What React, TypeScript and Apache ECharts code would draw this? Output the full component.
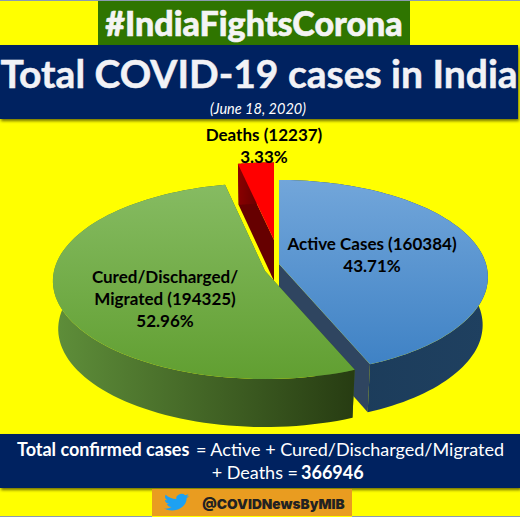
import React, { useEffect, useRef } from "react";
import * as echarts from "echarts";

const categories = ["Deaths", "Active Cases", "Cured/Discharged/Migrated"];
const caseCounts = [12237, 160384, 194325];
const labelLines = [
  ["Deaths (12237)", "3.33%"],
  ["Active Cases (160384)", "43.71%"],
  ["Cured/Discharged/", "Migrated (194325)", "52.96%"],
];
const banner = "#IndiaFightsCorona";
const title = "Total COVID-19 cases in India";
const dateLine = "(June 18, 2020)";
const handle = "@COVIDNewsByMIB";

const BIRD =
  "M23.953 4.57 C23.07 4.96 22.12 5.22 21.128 5.345 C22.14 4.74 22.93 3.78 23.291 2.622 C22.34 3.177 21.286 3.581 20.164 3.806 A4.92 4.92 0 0 0 11.78 8.288 C7.69 8.095 4.067 6.13 1.64 3.162 A4.822 4.822 0 0 0 .974 5.637 C.974 7.347 1.844 8.85 3.162 9.733 A4.904 4.904 0 0 1 .934 9.117 L.934 9.177 A4.923 4.923 0 0 0 4.88 14.004 A4.996 4.996 0 0 1 2.668 14.089 A4.936 4.936 0 0 0 7.272 17.506 A9.867 9.867 0 0 1 1.17 19.611 C.78 19.611 .391 19.588 0 19.544 A13.995 13.995 0 0 0 7.557 21.753 C16.61 21.753 21.555 14.257 21.555 7.768 C21.555 7.558 21.555 7.348 21.54 7.138 A9.935 9.935 0 0 0 24 4.59 Z";

const geometry = [
  { cx: 274, cy: 240, a: 196, b: 88, k: 0.134, depth: 41, taper: 0.98, labelX: 264, labelY: 134,
    top: ["#ff0000", "#ff0000"], wall: ["#8a0000", "#4a0000"], cut: "#660000" },
  { cx: 279, cy: 264, a: 207, b: 95.3, k: 0.134, depth: 48, taper: 0.975, labelX: 372, labelY: 243,
    top: ["#72a6da", "#3f82c5"], wall: ["#1a3a58", "#1f4060"], cut: "#2f4560" },
  { cx: 265, cy: 271, a: 211, b: 97, k: 0.102, depth: 48, taper: 0.975, labelX: 165, labelY: 276,
    top: ["#86bb62", "#619f31"], wall: ["#5f8f3a", "#273c12"], cut: "#3f6420" },
];

const total = caseCounts.reduce((s, v) => s + v, 0);
const LF = "Lato, sans-serif";

function renderSlice(params: any, api: any) {
  const i = params.dataIndex;
  const g = geometry[i];
  const before = caseCounts.slice(0, i).reduce((s, v) => s + v, 0);
  const offset = caseCounts[0];
  const startA = ((before - offset) / total) * Math.PI * 2;
  const endA = startA + (api.value(0) / total) * Math.PI * 2;
  const proj = (t: number): [number, number] => {
    const u = Math.sin(t), v = -Math.cos(t), d = 1 - g.k * v;
    return [g.cx + (g.a * u) / d, g.cy + (g.b * v) / d];
  };
  const low = (p: [number, number]): [number, number] => [g.cx + (p[0] - g.cx) * g.taper, p[1] + g.depth];
  const arc: [number, number][] = [];
  const N = 90;
  for (let n = 0; n <= N; n++) arc.push(proj(startA + ((endA - startA) * n) / N));
  const apex: [number, number] = [g.cx, g.cy];
  const cutWall = (p: [number, number]) => ({
    type: "polygon",
    shape: { points: [apex, p, low(p), low(apex)] },
    style: { fill: g.cut },
  });
  const vert = (c: string[]) => new echarts.graphic.LinearGradient(0, 0, 0, 1, [
    { offset: 0, color: c[0] }, { offset: 1, color: c[1] },
  ]);
  const horiz = (c: string[]) => new echarts.graphic.LinearGradient(0, 0, 1, 0, [
    { offset: 0, color: c[0] }, { offset: 1, color: c[1] },
  ]);
  const children: any[] = [
    cutWall(arc[0]),
    cutWall(arc[N]),
    { type: "polygon", shape: { points: [...arc, ...arc.slice().reverse().map(low)] }, style: { fill: horiz(g.wall) } },
    { type: "polygon", shape: { points: [apex, ...arc] }, style: { fill: vert(g.top) } },
  ];
  labelLines[i].forEach((line, n) => {
    children.push({
      type: "text",
      z2: 50,
      style: {
        text: line, x: g.labelX, y: g.labelY + n * 22,
        align: "center", verticalAlign: "middle",
        font: `bold 17px ${LF}`, fill: "#000000",
      },
    });
  });
  return { type: "group", children };
}

export default function App() {
  const ref = useRef<HTMLDivElement>(null);
  useEffect(() => {
    document.body.style.margin = "0";
    echarts.graphic.registerShape("bird", echarts.graphic.extendPath(BIRD, {}) as any);
    const chart = echarts.init(ref.current!, undefined, { renderer: "svg" });
    const rect = (x: number, y: number, w: number, h: number, fill: string, extra: any = {}) => ({
      type: "rect", shape: { x, y, width: w, height: h }, style: { fill, ...extra },
    });
    const text = (s: string, x: number, y: number, font: string, fill: string, extra: any = {}) => ({
      type: "text", style: { text: s, x, y, font, fill, align: "center", verticalAlign: "middle", ...extra },
    });
    const shadow = { shadowColor: "rgba(0,0,0,0.55)", shadowBlur: 3, shadowOffsetX: 1, shadowOffsetY: 2 };
    chart.setOption({
      animation: false,
      backgroundColor: "#ffff00",
      graphic: [
        rect(0, 0, 520, 1, "#8b9bb0"),
        rect(98, 1, 312, 44, "#2f7500"),
        text(banner, 254, 22, `900 34px ${LF}`, "#f4f4f4", { stroke: "#f4f4f4", lineWidth: 0.6 }),
        rect(0, 45, 518, 74, "#002060", shadow),
        text(title, 259, 73, `bold 39px ${LF}`, "#f2f2f6", { stroke: "#f2f2f6", lineWidth: 0.5 }),
        text(dateLine, 258, 108, `italic 14.5px ${LF}`, "#ffffff"),
        rect(0, 434, 520, 54, "#002060", shadow),
        text("Total confirmed cases", 17, 449, `bold 18px ${LF}`, "#ffffff", { align: "left" }),
        text("= Active + Cured/Discharged/Migrated", 504, 449, `18px ${LF}`, "#ffffff", { align: "right" }),
        text("+ Deaths =", 298, 472, `18px ${LF}`, "#ffffff", { align: "right" }),
        text("366946", 301, 472, `bold 18px ${LF}`, "#ffffff", { align: "left" }),
        rect(152, 489, 200, 27, "#e99c20"),
        { type: "bird", x: 164, y: 492, scaleX: 1.05, scaleY: 0.85, style: { fill: "#1da1f2" } },
        text(handle, 273.5, 504, `900 13.7px Inter, ${LF}`, "#222222"),
        rect(0, 516, 152, 1, "#8b9bb0"),
        rect(352, 516, 168, 1, "#8b9bb0"),
      ],
      series: [
        {
          type: "custom",
          coordinateSystem: "none",
          renderItem: renderSlice,
          silent: true,
          data: categories.map((name, i) => ({ name, value: [caseCounts[i]] })),
        },
      ],
    });
    return () => chart.dispose();
  }, []);
  return <div ref={ref} style={{ width: 520, height: 517 }} />;
}
